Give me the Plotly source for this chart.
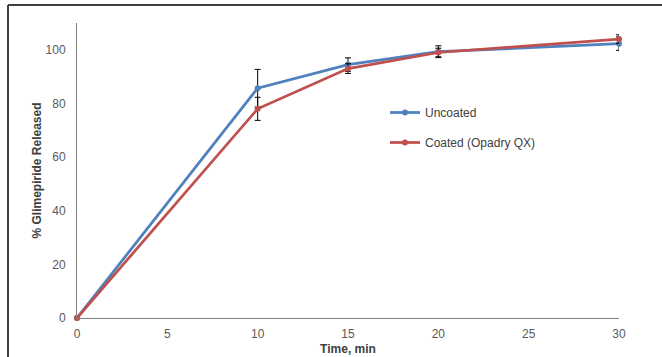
import plotly.graph_objects as go

time_min = [0, 10, 15, 20, 30]
uncoated = [0, 85.7, 94.5, 99.3, 102.3]
uncoated_err = [0, 7.0, 2.5, 2.2, 2.5]
coated = [0, 78.0, 93.0, 99.0, 104.0]
coated_err = [0, 4.3, 1.8, 1.6, 1.6]
x_ticks = [0, 5, 10, 15, 20, 25, 30]
y_ticks = [0, 20, 40, 60, 80, 100]

BLUE = "#4F81BD"
RED = "#C0504D"

fig = go.Figure()
fig.add_trace(go.Scatter(
    x=time_min, y=uncoated, name="Uncoated", mode="lines+markers",
    line=dict(color=BLUE, width=2.75), marker=dict(color=BLUE, size=6),
    error_y=dict(type="data", array=uncoated_err, color="#000000", thickness=1, width=3),
    legendgroup="a",
))
fig.add_trace(go.Scatter(
    x=time_min, y=coated, name="Coated (Opadry QX)", mode="lines+markers",
    line=dict(color=RED, width=2.75), marker=dict(color=RED, size=6),
    error_y=dict(type="data", array=coated_err, color="#000000", thickness=1, width=3),
    legendgroup="b",
))

L, R, T, B = 77, 43, 23, 39
W, H = 662, 357
pw, ph = W - L - R, H - T - B

def px(xp):
    return (xp - L) / pw

def py(yp):
    return 1 - (yp - T) / ph

fig.update_layout(
    width=W, height=H,
    margin=dict(l=L, r=R, t=T, b=B),
    paper_bgcolor="white", plot_bgcolor="white",
    font=dict(family="Liberation Sans, Arial, sans-serif", color="#595959", size=12),
    showlegend=True,
    legend=dict(
        x=px(385), y=py(98), xanchor="left", yanchor="top",
        bgcolor="rgba(0,0,0,0)", font=dict(size=12, color="#404040"),
        traceorder="grouped", tracegroupgap=11,
    ),
    xaxis=dict(
        range=[0, 30], tickvals=x_ticks, showgrid=False, zeroline=False,
        showline=True, linecolor="#7f7f7f", linewidth=1, ticks="",
        ticklabelstandoff=5, automargin=False,
        title=dict(text="<b>Time, min</b>", font=dict(size=12, color="#404040"), standoff=4),
        tickfont=dict(size=12, color="#595959"),
    ),
    yaxis=dict(
        range=[0, 110], tickvals=y_ticks, showgrid=False, zeroline=False,
        showline=True, linecolor="#7f7f7f", linewidth=1, ticks="",
        ticklabelstandoff=8, automargin=False,
        title=dict(text="<b>% Glimepiride Released</b>", font=dict(size=12, color="#404040"), standoff=1),
        tickfont=dict(size=12, color="#595959"),
    ),
    shapes=[
        dict(type="line", xref="paper", yref="paper",
             x0=px(8), x1=px(8), y0=py(360), y1=py(5),
             line=dict(color="#404040", width=2)),
        dict(type="line", xref="paper", yref="paper",
             x0=px(8), x1=px(662), y0=py(5), y1=py(5),
             line=dict(color="#404040", width=2)),
    ],
)
fig.update_traces(cliponaxis=False)

fig.write_html("out.html")
